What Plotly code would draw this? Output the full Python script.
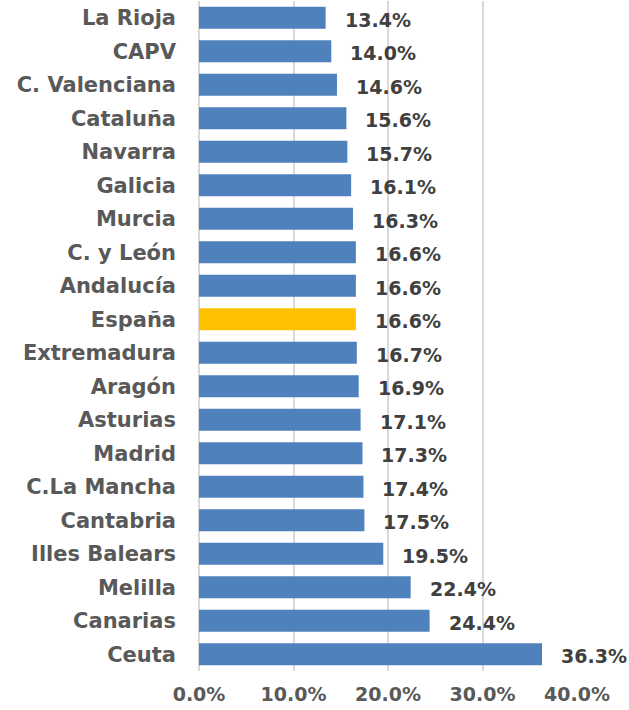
import plotly.graph_objects as go

categories = ["La Rioja", "CAPV", "C. Valenciana", "Cataluña", "Navarra", "Galicia",
              "Murcia", "C. y León", "Andalucía", "España", "Extremadura", "Aragón",
              "Asturias", "Madrid", "C.La Mancha", "Cantabria", "Illes Balears",
              "Melilla", "Canarias", "Ceuta"]
values = [13.4, 14.0, 14.6, 15.6, 15.7, 16.1, 16.3, 16.6, 16.6, 16.6, 16.7, 16.9,
          17.1, 17.3, 17.4, 17.5, 19.5, 22.4, 24.4, 36.3]
highlight = "España"
tick_vals = [0, 10, 20, 30, 40]
tick_text = ["0.0%", "10.0%", "20.0%", "30.0%", "40.0%"]

FONT = "DejaVu Sans"
colors = ["#FFC000" if c == highlight else "#4F81BD" for c in categories]

fig = go.Figure(go.Bar(
    x=values, y=categories, orientation="h",
    marker=dict(color=colors, line=dict(width=0)),
    width=0.66,
    hoverinfo="x+y",
))

for c, v in zip(categories, values):
    fig.add_annotation(x=v, y=c, text=f"{v:.1f}%", showarrow=False,
                       xanchor="left", yanchor="middle", xshift=17, yshift=-2,
                       font=dict(family=FONT, size=19, color="#404040", weight="bold"))

fig.update_layout(
    width=629, height=710,
    margin=dict(l=199, r=52, t=1, b=39, autoexpand=False),
    plot_bgcolor="white", paper_bgcolor="white",
    showlegend=False,
    font=dict(family=FONT),
)
fig.update_xaxes(range=[0, 40], tickvals=tick_vals, ticktext=tick_text,
                 showgrid=True, gridcolor="#D9D9D9", gridwidth=1.5,
                 zeroline=True, zerolinecolor="#D9D9D9", zerolinewidth=1.5,
                 showline=False, ticks="", automargin=False,
                 ticklabelstandoff=10,
                 tickfont=dict(family=FONT, size=19, color="#595959", weight="bold"))
fig.update_yaxes(autorange="reversed", showgrid=False, ticks="", ticklen=0,
                 automargin=False,
                 tickfont=dict(family=FONT, size=21, color="#595959", weight="bold"),
                 ticklabelstandoff=22)

fig.write_html("out.html", config={"displayModeBar": False},
               post_script="document.body.style.margin='0';document.body.style.padding='0';")
